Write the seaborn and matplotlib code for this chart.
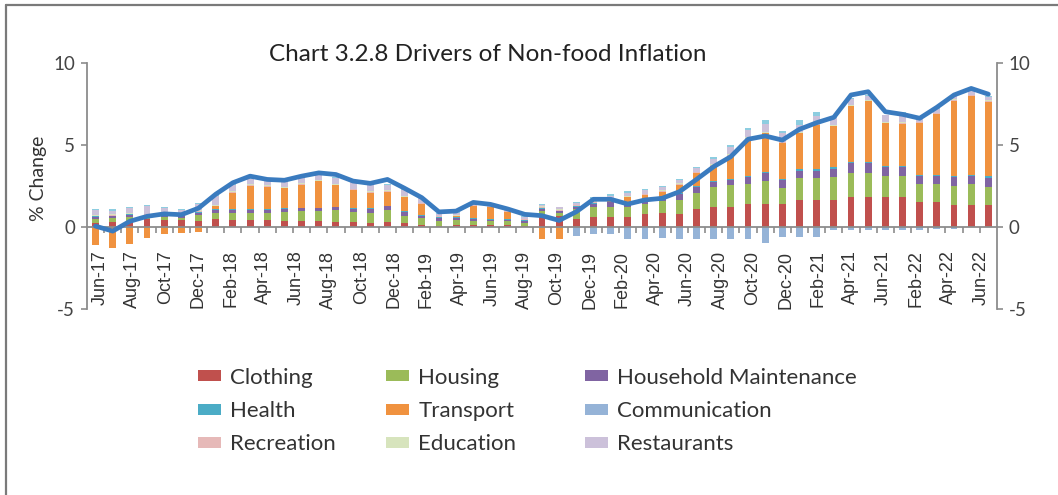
import numpy as np
import pandas as pd
import matplotlib
matplotlib.use("Agg")
import matplotlib.pyplot as plt
import seaborn as sns
from matplotlib.lines import Line2D
from matplotlib.patches import Patch

# ---------------- data ----------------
months = [d.strftime("%b-%y") for d in pd.date_range("2017-06-01", "2021-06-01", freq="MS")] + \
         ["Mar-22", "Apr-22", "May-22", "Jun-22"]

clothing = [0.24, 0.30, 0.35, 0.47, 0.43, 0.40, 0.37, 0.47, 0.45, 0.43, 0.40, 0.35, 0.35, 0.35,
            0.33, 0.30, 0.25, 0.30, 0.25, 0.15, 0.08, 0.10, 0.10, 0.10, 0.10, 0.05, 0.70, 0.65,
            0.50, 0.60, 0.60, 0.60, 0.80, 0.85, 0.80, 1.08, 1.24, 1.24, 1.38, 1.38, 1.38, 1.65,
            1.65, 1.65, 1.85, 1.80, 1.80, 1.80, 1.52, 1.52, 1.34, 1.34, 1.34]
housing = [0.24, 0.25, 0.25, 0.10, 0.15, 0.15, 0.37, 0.37, 0.39, 0.40, 0.45, 0.55, 0.60, 0.60,
           0.70, 0.60, 0.60, 0.75, 0.45, 0.40, 0.30, 0.30, 0.25, 0.25, 0.25, 0.20, 0.30, 0.20,
           0.60, 0.63, 0.60, 0.60, 0.63, 0.75, 0.87, 1.00, 1.22, 1.30, 1.24, 1.42, 1.00, 1.36,
           1.36, 1.42, 1.46, 1.52, 1.32, 1.28, 1.10, 1.10, 1.18, 1.26, 1.12]
household = [0.12, 0.10, 0.12, 0.10, 0.12, 0.12, 0.14, 0.20, 0.20, 0.20, 0.20, 0.20, 0.18, 0.18,
             0.16, 0.20, 0.25, 0.20, 0.20, 0.15, 0.15, 0.15, 0.15, 0.10, 0.10, 0.12, 0.12, 0.10,
             0.12, 0.16, 0.30, 0.15, 0.12, 0.10, 0.33, 0.33, 0.30, 0.33, 0.45, 0.50, 0.47, 0.43,
             0.43, 0.49, 0.57, 0.57, 0.53, 0.55, 0.50, 0.50, 0.50, 0.50, 0.55]
health = [0.05] * 34 + [0.07] * 19
transport = [-1.10, -1.30, -1.05, -0.70, -0.43, -0.39, -0.33, 0.16, 1.00, 1.45, 1.35, 1.20, 1.40, 1.60,
             1.30, 1.10, 0.95, 0.85, 0.85, 0.65, 0.02, 0.05, 0.75, 0.70, 0.40, 0.00, -0.75, -0.75,
             0.00, 0.05, 0.10, 0.40, 0.35, 0.40, 0.50, 0.80, 0.90, 1.40, 2.25, 2.34, 2.20, 2.20,
             2.70, 2.50, 3.40, 3.70, 2.60, 2.60, 3.15, 3.70, 4.60, 4.80, 4.57]
communication = [0.0] * 28 + [-0.55, -0.40, -0.40, -0.75, -0.75, -0.70, -0.75, -0.75, -0.75, -0.75,
                              -0.75, -0.95, -0.60, -0.60, -0.60, -0.20, -0.20, -0.20, -0.20, -0.20,
                              -0.20, -0.15, -0.10, 0.00, 0.00]
recreation = [0.05] * 53
education = [0.04] * 53
restaurants = [0.30, 0.20, 0.30, 0.50, 0.30, 0.25, 0.40, 0.55, 0.40, 0.30, 0.35, 0.35, 0.30, 0.30,
               0.35, 0.40, 0.45, 0.35, 0.35, 0.25, 0.10, 0.10, 0.10, 0.10, 0.10, 0.10, 0.10, 0.10,
               0.10, 0.15, 0.15, 0.20, 0.20, 0.20, 0.20, 0.20, 0.35, 0.45, 0.45, 0.50, 0.50, 0.45,
               0.45, 0.45, 0.35, 0.25, 0.40, 0.45, 0.25, 0.20, 0.20, 0.30, 0.20]
other = [0.08, 0.08, 0.08, 0.06, 0.06, 0.06, 0.06, 0.06, 0.06, 0.05, 0.05, 0.05, 0.05, 0.05,
         0.05, 0.05, 0.05, 0.05, 0.05, 0.05, 0.05, 0.05, 0.05, 0.05, 0.05, 0.05, 0.05, 0.05,
         0.05, 0.10, 0.10, 0.08, 0.08, 0.08, 0.08, 0.10, 0.08, 0.10, 0.12, 0.25, 0.15, 0.30,
         0.25, 0.05, 0.05, 0.05, 0.05, 0.20, 0.05, 0.05, 0.05, 0.05, 0.05]
headline = [0.05, -0.25, 0.35, 0.65, 0.80, 0.75, 1.15, 2.00, 2.70, 3.10, 2.90, 2.85, 3.10, 3.30,
            3.20, 2.80, 2.66, 2.90, 2.36, 1.79, 0.92, 0.97, 1.50, 1.38, 1.10, 0.77, 0.69, 0.40,
            0.93, 1.69, 1.69, 1.40, 1.65, 1.75, 2.15, 2.90, 3.68, 4.29, 5.35, 5.55, 5.30, 5.96,
            6.36, 6.69, 8.05, 8.25, 7.03, 6.87, 6.63, 7.30, 8.05, 8.45, 8.10]

tick_labels = ["Jun-17", "Aug-17", "Oct-17", "Dec-17", "Feb-18", "Apr-18", "Jun-18", "Aug-18",
               "Oct-18", "Dec-18", "Feb-19", "Apr-19", "Jun-19", "Aug-19", "Oct-19", "Dec-19",
               "Feb-20", "Apr-20", "Jun-20", "Aug-20", "Oct-20", "Dec-20", "Feb-21", "Apr-21",
               "Jun-21", "Feb-22", "Apr-22", "Jun-22"]

series_names = ["Clothing", "Housing", "Household Maintenance", "Health", "Transport",
                "Communication", "Recreation", "Education", "Restaurants", "Other"]
series_vals = [clothing, housing, household, health, transport, communication,
               recreation, education, restaurants, other]
colors = ["#C0504D", "#9BBB59", "#8064A2", "#4BACC6", "#F0923F",
          "#95B3D7", "#E6B9B8", "#D7E4BD", "#CCC1DA", "#8DCDE0"]

# ---------------- plot ----------------
sns.set_theme(style="white")
plt.rcParams["font.family"] = ["Liberation Sans", "DejaVu Sans"]

fig = plt.figure(figsize=(10.58, 4.95), dpi=100)
ax = fig.add_axes([0.0822, 0.3758, 0.9423 - 0.0822, 0.8727 - 0.3758])

x = np.arange(len(months))
pos_bottom = np.zeros(len(months))
neg_bottom = np.zeros(len(months))
for name, vals, c in zip(series_names, series_vals, colors):
    v = np.asarray(vals, dtype=float)
    bottom = np.where(v >= 0, pos_bottom, neg_bottom)
    ax.bar(x, v, width=0.4, bottom=bottom, color=c, linewidth=0, zorder=2)
    pos_bottom += np.where(v >= 0, v, 0)
    neg_bottom += np.where(v < 0, v, 0)

df_line = pd.DataFrame({"x": x, "y": headline})
sns.lineplot(data=df_line, x="x", y="y", ax=ax, color="#3A7BBF", linewidth=3.4,
             zorder=4, legend=False)

ax.set_xlim(-0.5, len(months) - 0.5)
ax.set_ylim(-5, 10)
ax.set_yticks([-5, 0, 5, 10])
ax.set_yticklabels(["-5", "0", "5", "10"])
ax.set_xlabel("")
ax.set_ylabel("")

spine_col = "#8C8C8C"
for s in ["left", "right", "bottom"]:
    ax.spines[s].set_color(spine_col)
    ax.spines[s].set_linewidth(1.3)
ax.spines["top"].set_visible(False)
ax.spines["bottom"].set_position(("data", 0))
ax.spines["bottom"].set_zorder(3)

ax.tick_params(axis="y", which="both", left=True, right=True, labelleft=True, labelright=True,
               direction="out", length=4.5, width=1.2, color=spine_col, labelsize=13.5,
               labelcolor="#444444", pad=4)
for lbl in ax.get_yticklabels(which="both"):
    lbl.set_family(["Lato", "DejaVu Sans"])

label_pos = np.linspace(0.26, 51.6, len(tick_labels))
ax.set_xticks(label_pos)
ax.set_xticklabels(tick_labels, rotation=90, va="top", ha="center", fontsize=13)
ax.tick_params(axis="x", which="major", length=0, pad=17, labelcolor="#333333")
ax.set_xticks(np.arange(len(months) - 1) + 0.5, minor=True)
ax.tick_params(axis="x", which="minor", direction="out", length=4, width=1.2, color=spine_col,
               bottom=True)

fig.text(0.036, 0.64, "% Change", rotation=90, ha="center", va="center", fontsize=14,
         color="#333333", family=["Lato", "DejaVu Sans"])
fig.text(0.461, 0.889, "Chart 3.2.8 Drivers of Non-food Inflation", ha="center", va="center",
         fontsize=17.5, color="#222222", family=["Lato", "DejaVu Sans"])

# legend (first nine series): three columns placed like the reference
columns = [[0, 3, 6], [1, 4, 7], [2, 5, 8]]
col_x = [0.1871, 0.3648, 0.5529]
for cols, cx in zip(columns, col_x):
    handles = [Patch(facecolor=colors[i], edgecolor="none") for i in cols]
    labels = [series_names[i] for i in cols]
    fig.legend(handles, labels, ncol=1, loc="upper left", bbox_to_anchor=(cx, 0.257),
               frameon=False, handlelength=1.05, handleheight=0.4, handletextpad=0.4,
               labelspacing=0.6, borderaxespad=0, borderpad=0,
               prop={"family": ["Lato", "DejaVu Sans"], "size": 16}, labelcolor="#333333")

# frame lines of the picture (left and top)
fig.add_artist(Line2D([0.0057, 0.0057], [0, 0.99], transform=fig.transFigure,
                      color="#7A7A7A", linewidth=1.6))
fig.add_artist(Line2D([0.0057, 1.0], [0.99, 0.99], transform=fig.transFigure,
                      color="#7A7A7A", linewidth=1.6))

fig.savefig("out.png", dpi=100, facecolor="white")
